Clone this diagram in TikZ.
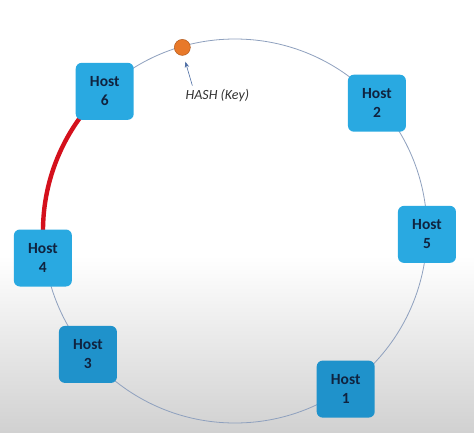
\documentclass[tikz,border=0pt]{standalone}
\usepackage{fontspec}
\setmainfont{Carlito}
\usepackage{xcolor}
\usetikzlibrary{arrows.meta, positioning, calc}

\definecolor{hostblue}{HTML}{29A9E1}
\definecolor{hostdark}{HTML}{1F92CB}
\definecolor{hosttext}{HTML}{10233F}
\definecolor{ringline}{HTML}{8EA0BE}
\definecolor{hashdot}{HTML}{E8792A}
\definecolor{hashedge}{HTML}{B35A1C}
\definecolor{pathred}{HTML}{D4101C}
\definecolor{arrowblue}{HTML}{4F6FA5}

\begin{document}
\begin{tikzpicture}[
    x=1pt, y=1pt,
    host/.style={rectangle, draw=none, rounded corners=6pt, fill=hostblue,
                 minimum width=58pt, minimum height=57pt, align=center,
                 text=hosttext, font=\fontsize{15.5}{19}\selectfont\bfseries},
    lowhost/.style={host, fill=hostdark},
    ring/.style={draw=ringline, line width=0.8pt},
    route/.style={draw=pathred, line width=4.4pt},
    hashpt/.style={circle, fill=hashdot, draw=hashedge, line width=0.5pt,
                   minimum size=16pt, inner sep=0pt},
    pointer/.style={-{Stealth[length=6pt,width=4.5pt]}, arrowblue, line width=0.6pt},
    keylabel/.style={font=\fontsize{14}{16}\selectfont\itshape, text=black!80}
  ]
    % Background with grey fade at the bottom
    \useasboundingbox (-235,-201) rectangle (239,231);
    \fill[white] (-235,-201) rectangle (239,231);
    \shade[top color=white, bottom color=black!18] (-235,-201) rectangle (239,-25);

    % Hash ring
    \coordinate (c) at (0,0);
    \draw[ring] (c) circle (192);

    % Path from Host 6 to Host 4
    \draw[route] (c) ++(142:192) arc (142:184:192);

    % Hosts on the ring
    \node[host]    (h6) at (133:191) {Host\\6};
    \node[host]    (h2) at (42:191)  {Host\\2};
    \node[host]    (h5) at (-1:192)  {Host\\5};
    \node[host]    (h4) at (188:194) {Host\\4};
    \node[lowhost] (h3) at (220:192) {Host\\3};
    \node[lowhost] (h1) at (305:193) {Host\\1};

    % Key position
    \node[hashpt] (dot) at (106:191) {};
    \node[keylabel] (key) at ($(dot)+(35,-48)$) {HASH (Key)};
    \draw[pointer] ([xshift=-25pt]key.north) -- ([xshift=3pt,yshift=-6pt]dot.south);
  \end{tikzpicture}
\end{document}
